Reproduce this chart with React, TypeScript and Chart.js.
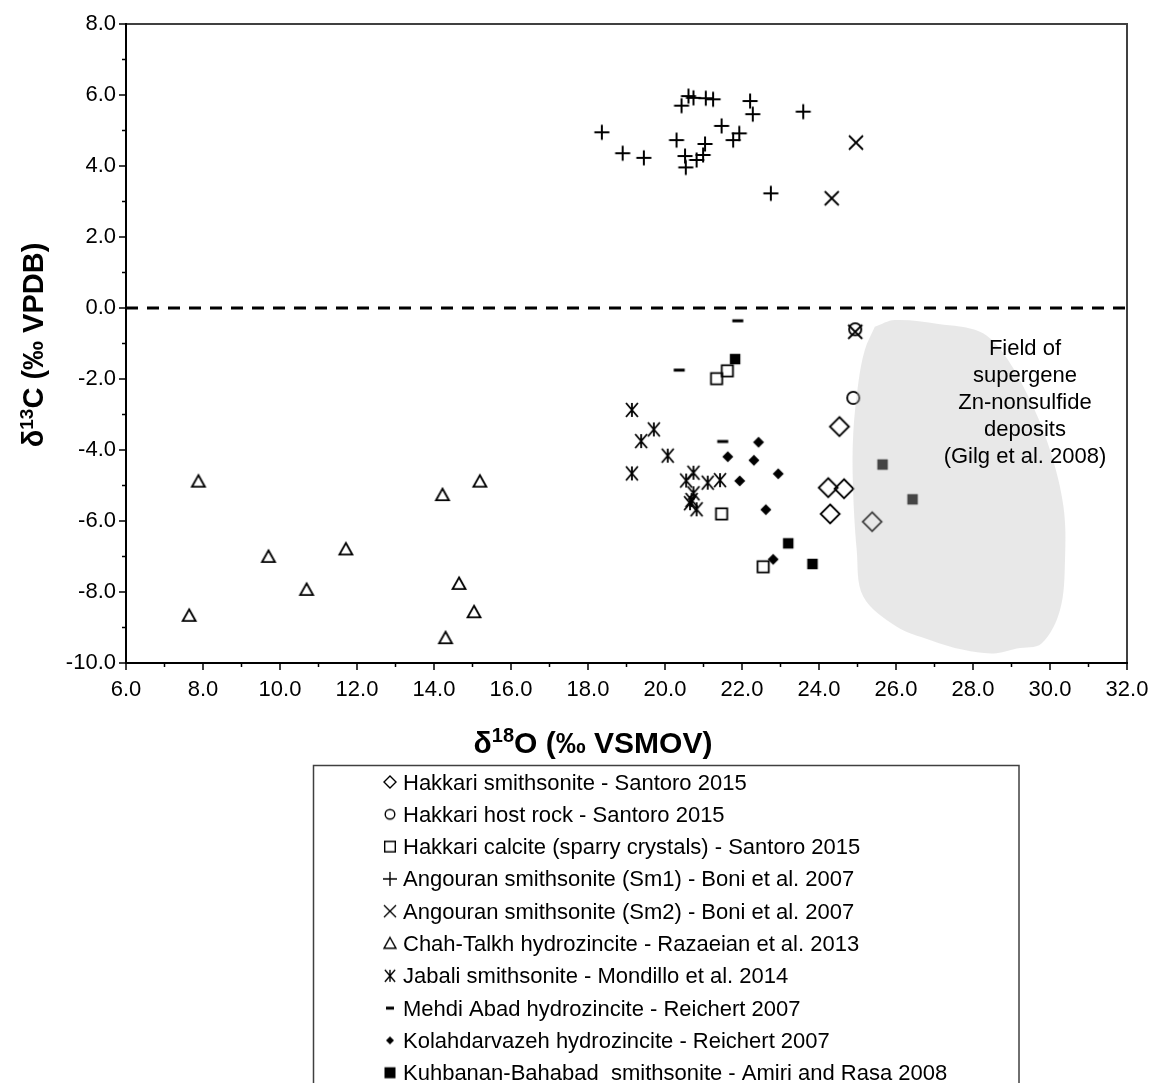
import React, { useEffect, useRef } from "react";
import { Chart, registerables } from "chart.js";
Chart.register(...registerables);

// ---------------- data ----------------
const X_MIN = 6;
const X_MAX = 32;
const Y_MIN = -10;
const Y_MAX = 8;

const HAKKARI_SMITH_X = [24.53, 24.24, 24.65, 24.29, 25.38];
const HAKKARI_SMITH_Y = [-3.34, -5.06, -5.09, -5.8, -6.02];

const HAKKARI_HOST_X = [24.94, 24.89];
const HAKKARI_HOST_Y = [-0.6, -2.53];

const HAKKARI_CALCITE_X = [21.34, 21.62, 21.47, 22.55];
const HAKKARI_CALCITE_Y = [-1.99, -1.77, -5.8, -7.29];

const ANGOURAN_SM1_X = [18.36, 18.9, 19.45, 20.3, 20.54, 20.52, 20.43, 20.61, 20.74, 21.06, 21.25, 22.21, 22.28, 21.47, 21.77, 21.93, 21.04, 20.99, 20.82, 23.59, 22.75];
const ANGOURAN_SM1_Y = [4.95, 4.36, 4.23, 4.73, 3.96, 4.28, 5.7, 5.97, 5.92, 5.91, 5.88, 5.83, 5.46, 5.13, 4.73, 4.92, 4.62, 4.31, 4.17, 5.53, 3.23];

const ANGOURAN_SM2_X = [24.96, 24.33, 24.94];
const ANGOURAN_SM2_Y = [4.66, 3.09, -0.67];

const CHAH_TALKH_X = [7.88, 7.64, 9.7, 10.69, 11.71, 14.22, 15.19, 14.65, 15.04, 14.3];
const CHAH_TALKH_Y = [-4.89, -8.67, -7.01, -7.94, -6.8, -5.27, -4.89, -7.77, -8.57, -9.3];

const JABALI_X = [19.14, 19.71, 19.38, 20.07, 19.14, 20.74, 20.55, 21.11, 21.43, 20.74, 20.69, 20.65, 20.82];
const JABALI_Y = [-2.87, -3.42, -3.75, -4.16, -4.66, -4.64, -4.86, -4.92, -4.85, -5.22, -5.41, -5.5, -5.67];

const MEHDI_ABAD_X = [21.89, 20.37, 21.5];
const MEHDI_ABAD_Y = [-0.36, -1.75, -3.76];

const KOLAHDARVAZEH_X = [22.43, 21.63, 22.31, 22.94, 21.94, 22.62, 22.81];
const KOLAHDARVAZEH_Y = [-3.78, -4.19, -4.29, -4.67, -4.87, -5.68, -7.08];

const KUHBANAN_X = [21.82, 23.2, 23.83, 25.65, 26.43];
const KUHBANAN_Y = [-1.44, -6.63, -7.21, -4.41, -5.39];

// Field of supergene Zn-nonsulfide deposits (outline)
const FIELD_X = [25.45, 25.97, 27.1, 28.18, 28.79, 29.48, 30.0, 30.35, 30.39, 30.26, 29.78, 29.14, 28.53, 27.75, 26.88, 26.02, 25.15, 24.98, 24.88, 24.89, 25.02, 25.19, 25.45];
const FIELD_Y = [-0.53, -0.34, -0.45, -0.67, -1.28, -2.59, -4.0, -5.6, -7.1, -8.51, -9.45, -9.59, -9.73, -9.63, -9.35, -8.98, -8.13, -6.82, -4.94, -3.53, -2.12, -1.18, -0.53];
const FIELD_LABEL = ["Field of", "supergene", "Zn-nonsulfide", "deposits", "(Gilg et al. 2008)"];

const ZERO_LINE_X = [6, 32];
const ZERO_LINE_Y = [0, 0];

const SERIES_LABELS = [
  "Hakkari smithsonite - Santoro 2015",
  "Hakkari host rock - Santoro 2015",
  "Hakkari calcite (sparry crystals) - Santoro 2015",
  "Angouran smithsonite (Sm1) - Boni et al. 2007",
  "Angouran smithsonite (Sm2) - Boni et al. 2007",
  "Chah-Talkh hydrozincite - Razaeian et al. 2013",
  "Jabali smithsonite - Mondillo et al. 2014",
  "Mehdi Abad hydrozincite - Reichert 2007",
  "Kolahdarvazeh hydrozincite - Reichert 2007",
  "Kuhbanan-Bahabad  smithsonite - Amiri and Rasa 2008",
];

// ---------------- markers ----------------
type Kind =
  | "diamondOpen"
  | "circleOpen"
  | "squareOpen"
  | "plus"
  | "cross"
  | "triangle"
  | "asterisk"
  | "dash"
  | "diamondFilled"
  | "squareFilled";

const KINDS: Kind[] = [
  "diamondOpen",
  "circleOpen",
  "squareOpen",
  "plus",
  "cross",
  "triangle",
  "asterisk",
  "dash",
  "diamondFilled",
  "squareFilled",
];

const CHART_SIZE: Record<Kind, number> = {
  diamondOpen: 19,
  circleOpen: 14,
  squareOpen: 13,
  plus: 15,
  cross: 14,
  triangle: 13,
  asterisk: 14,
  dash: 11,
  diamondFilled: 11,
  squareFilled: 10.5,
};
const LEGEND_SIZE: Record<Kind, number> = {
  diamondOpen: 12,
  circleOpen: 11,
  squareOpen: 12,
  plus: 14,
  cross: 12,
  triangle: 12,
  asterisk: 12,
  dash: 8,
  diamondFilled: 8,
  squareFilled: 11,
};

function makeMarker(kind: Kind, e: number, lw: number): HTMLCanvasElement {
  let size = Math.ceil(e + lw * 2 + 4);
  if (size % 2) size += 1;
  const c = document.createElement("canvas");
  c.width = size;
  c.height = size;
  const ctx = c.getContext("2d")!;
  const cx = size / 2;
  const cy = size / 2;
  const h = e / 2;
  ctx.strokeStyle = "#000";
  ctx.fillStyle = "#000";
  ctx.lineWidth = lw;
  ctx.beginPath();
  switch (kind) {
    case "diamondOpen":
      ctx.moveTo(cx, cy - h);
      ctx.lineTo(cx + h, cy);
      ctx.lineTo(cx, cy + h);
      ctx.lineTo(cx - h, cy);
      ctx.closePath();
      ctx.stroke();
      break;
    case "circleOpen":
      ctx.arc(cx, cy, h - lw / 2, 0, Math.PI * 2);
      ctx.stroke();
      break;
    case "squareOpen":
      ctx.rect(cx - h + lw / 2, cy - h + lw / 2, e - lw, e - lw);
      ctx.stroke();
      break;
    case "plus":
      ctx.moveTo(cx - h, cy);
      ctx.lineTo(cx + h, cy);
      ctx.moveTo(cx, cy - h);
      ctx.lineTo(cx, cy + h);
      ctx.stroke();
      break;
    case "cross":
      ctx.moveTo(cx - h, cy - h);
      ctx.lineTo(cx + h, cy + h);
      ctx.moveTo(cx + h, cy - h);
      ctx.lineTo(cx - h, cy + h);
      ctx.stroke();
      break;
    case "triangle":
      ctx.moveTo(cx, cy - h);
      ctx.lineTo(cx + h, cy + h * 0.8);
      ctx.lineTo(cx - h, cy + h * 0.8);
      ctx.closePath();
      ctx.stroke();
      break;
    case "asterisk":
      ctx.moveTo(cx - h * 0.85, cy - h);
      ctx.lineTo(cx + h * 0.85, cy + h);
      ctx.moveTo(cx + h * 0.85, cy - h);
      ctx.lineTo(cx - h * 0.85, cy + h);
      ctx.moveTo(cx, cy - h);
      ctx.lineTo(cx, cy + h);
      ctx.stroke();
      break;
    case "dash":
      ctx.fillRect(cx - h, cy - 1.5, e, 3);
      break;
    case "diamondFilled":
      ctx.moveTo(cx, cy - h);
      ctx.lineTo(cx + h, cy);
      ctx.lineTo(cx, cy + h);
      ctx.lineTo(cx - h, cy);
      ctx.closePath();
      ctx.fill();
      break;
    case "squareFilled":
      ctx.fillRect(cx - h, cy - h, e, e);
      break;
  }
  return c;
}

const FONT = '"Liberation Sans", Arial, Helvetica, sans-serif';

type Part = { t: string; sup?: boolean };

function drawRich(ctx: CanvasRenderingContext2D, parts: Part[], cx: number, baseline: number, size: number, bold: boolean) {
  const f = (sup?: boolean) => `${bold ? "bold " : ""}${sup ? Math.round(size * 0.66) : size}px ${FONT}`;
  let total = 0;
  const widths = parts.map((p) => {
    ctx.font = f(p.sup);
    const w = ctx.measureText(p.t).width;
    total += w;
    return w;
  });
  let x = cx - total / 2;
  ctx.textAlign = "left";
  ctx.textBaseline = "alphabetic";
  parts.forEach((p, i) => {
    ctx.font = f(p.sup);
    ctx.fillText(p.t, x, p.sup ? baseline - size * 0.36 : baseline);
    x += widths[i];
  });
}

function pts(xs: number[], ys: number[]) {
  return xs.map((x, i) => ({ x, y: ys[i] }));
}

export default function App() {
  const ref = useRef<HTMLCanvasElement>(null);

  useEffect(() => {
    const seriesX = [HAKKARI_SMITH_X, HAKKARI_HOST_X, HAKKARI_CALCITE_X, ANGOURAN_SM1_X, ANGOURAN_SM2_X, CHAH_TALKH_X, JABALI_X, MEHDI_ABAD_X, KOLAHDARVAZEH_X, KUHBANAN_X];
    const seriesY = [HAKKARI_SMITH_Y, HAKKARI_HOST_Y, HAKKARI_CALCITE_Y, ANGOURAN_SM1_Y, ANGOURAN_SM2_Y, CHAH_TALKH_Y, JABALI_Y, MEHDI_ABAD_Y, KOLAHDARVAZEH_Y, KUHBANAN_Y];

    const chartMarkers = KINDS.map((k) => makeMarker(k, CHART_SIZE[k], k === "plus" ? 2 : 1.8));
    const legendMarkers = KINDS.map((k) => makeMarker(k, LEGEND_SIZE[k], 1.4));

    const scatterSets: any[] = SERIES_LABELS.map((label, i) => ({
      type: "scatter",
      label,
      data: pts(seriesX[i], seriesY[i]),
      pointStyle: chartMarkers[i],
      pointRadius: 6,
      showLine: false,
      order: 1,
    }));

    const decor = {
      id: "decor",
      afterDraw(chart: any) {
        const { ctx, chartArea: a, scales } = chart;
        const xs = scales.x;
        const ys = scales.y;
        ctx.save();
        // frame
        ctx.strokeStyle = "#404040";
        ctx.lineWidth = 2;
        ctx.beginPath();
        ctx.moveTo(a.left, a.top);
        ctx.lineTo(a.right, a.top);
        ctx.lineTo(a.right, a.bottom);
        ctx.stroke();
        ctx.strokeStyle = "#000";
        ctx.beginPath();
        ctx.moveTo(a.left, a.top - 1);
        ctx.lineTo(a.left, a.bottom);
        ctx.lineTo(a.right + 1, a.bottom);
        ctx.stroke();
        // ticks
        ctx.lineWidth = 1.5;
        ctx.beginPath();
        for (let v = X_MIN; v <= X_MAX; v++) {
          const px = xs.getPixelForValue(v);
          const len = v % 2 === 0 ? 7 : 4;
          ctx.moveTo(px, a.bottom);
          ctx.lineTo(px, a.bottom + len);
        }
        for (let v = Y_MIN; v <= Y_MAX; v++) {
          const py = ys.getPixelForValue(v);
          const len = v % 2 === 0 ? 7 : 4;
          ctx.moveTo(a.left - len, py);
          ctx.lineTo(a.left, py);
        }
        ctx.stroke();

        // field label
        ctx.fillStyle = "#000";
        ctx.font = `22px ${FONT}`;
        ctx.textAlign = "center";
        ctx.textBaseline = "alphabetic";
        const fx = xs.getPixelForValue(29.35);
        FIELD_LABEL.forEach((line, i) => {
          ctx.fillText(line, fx, 355 + i * 26.9);
        });

        // axis titles
        drawRich(ctx, [{ t: "δ" }, { t: "18", sup: true }, { t: "O (‰ VSMOV)" }], 593, 753, 30, true);
        ctx.save();
        ctx.translate(43, 345);
        ctx.rotate(-Math.PI / 2);
        drawRich(ctx, [{ t: "δ" }, { t: "13", sup: true }, { t: "C (‰ VPDB)" }], 0, 0, 29, true);
        ctx.restore();

        // legend box
        ctx.strokeStyle = "#404040";
        ctx.lineWidth = 1.5;
        ctx.strokeRect(313.5, 765.5, 705.5, 340);
        ctx.font = `22px ${FONT}`;
        ctx.textAlign = "left";
        ctx.textBaseline = "alphabetic";
        SERIES_LABELS.forEach((label, i) => {
          const cy = 782 + i * 32.3;
          const m = legendMarkers[i];
          ctx.drawImage(m, 390 - m.width / 2, cy - m.height / 2);
          ctx.fillText(label, 403, cy + 7.5);
        });
        ctx.restore();
      },
    };

    const chart = new Chart(ref.current!, {
      type: "scatter",
      data: {
        datasets: [
          ...scatterSets,
          {
            type: "line",
            label: "zero",
            data: pts(ZERO_LINE_X, ZERO_LINE_Y),
            borderColor: "#000",
            borderWidth: 3,
            borderDash: [12, 9],
            pointRadius: 0,
            fill: false,
            order: 2,
          },
          {
            type: "line",
            label: "field",
            data: pts(FIELD_X, FIELD_Y),
            borderWidth: 0,
            borderColor: "rgba(0,0,0,0)",
            backgroundColor: "rgba(190,190,190,0.36)",
            pointRadius: 0,
            tension: 0.35,
            fill: "shape",
            order: 0,
          },
        ],
      },
      options: {
        responsive: false,
        animation: false,
        layout: { padding: { left: 0, right: 24, top: 24, bottom: 380 } },
        plugins: { legend: { display: false }, tooltip: { enabled: false } },
        scales: {
          x: {
            type: "linear",
            min: X_MIN,
            max: X_MAX,
            afterFit: (s: any) => {
              s.height = 40;
              s.paddingLeft = 0;
              s.paddingRight = 0;
            },
            grid: { display: false, drawTicks: false },
            border: { display: false },
            ticks: {
              stepSize: 2,
              padding: 14,
              maxRotation: 0,
              autoSkip: false,
              color: "#000",
              font: { family: FONT, size: 22 },
              callback: (v: any) => Number(v).toFixed(1),
            },
          },
          y: {
            type: "linear",
            min: Y_MIN,
            max: Y_MAX,
            afterFit: (s: any) => {
              s.width = 126;
              s.paddingTop = 0;
              s.paddingBottom = 0;
            },
            grid: { display: false, drawTicks: false },
            border: { display: false },
            ticks: {
              stepSize: 2,
              padding: 10,
              autoSkip: false,
              color: "#000",
              font: { family: FONT, size: 22 },
              callback: (v: any) => Number(v).toFixed(1),
            },
          },
        },
      },
      plugins: [decor],
    } as any);
    return () => chart.destroy();
  }, []);

  return (
    <div style={{ position: "absolute", left: 0, top: 0, width: 1151, height: 1083, background: "#fff", overflow: "hidden" }}>
      <canvas ref={ref} width={1151} height={1083} style={{ display: "block" }} />
    </div>
  );
}
